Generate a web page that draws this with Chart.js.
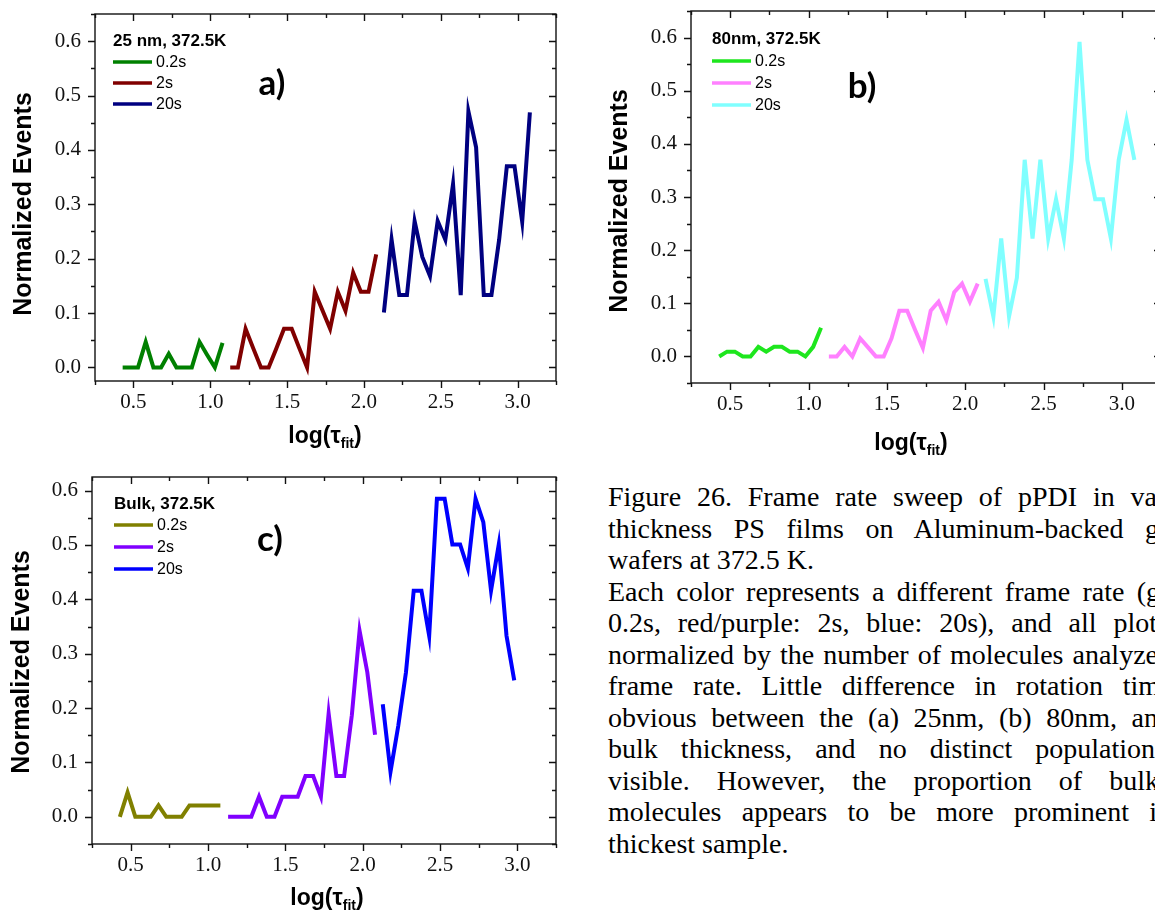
<!DOCTYPE html>
<html>
<head>
<meta charset="utf-8">
<script src="https://cdn.jsdelivr.net/npm/chart.js@4.4.0/dist/chart.umd.min.js"></script>
<style>
  html, body { margin: 0; padding: 0; background: #fff; }
  body { width: 1155px; height: 911px; overflow: hidden; position: relative; }
  canvas { position: absolute; }
  #caption {
    position: absolute; left: 608px; top: 481px; width: 700px;
    font-family: "Liberation Serif", "Times New Roman", serif;
    font-size: 28px; line-height: 31.5px; color: #000;
  }
  #caption div { white-space: nowrap; }
</style>
</head>
<body>
<canvas id="film25" width="580" height="465" style="left:0;top:0"></canvas>
<canvas id="film80" width="590" height="470" style="left:580px;top:0"></canvas>
<canvas id="bulk" width="580" height="446" style="left:0;top:465px"></canvas>
<div id="caption"></div>

<script>
// log(tau_fit) bin centres for each frame rate
var binsFast = [0.43, 0.48, 0.53, 0.58, 0.63, 0.68, 0.73, 0.78, 0.83, 0.88, 0.93, 0.98, 1.03, 1.08];
var binsMid = [1.13, 1.18, 1.23, 1.28, 1.33, 1.38, 1.43, 1.48, 1.53, 1.58, 1.63, 1.68, 1.73, 1.78, 1.83, 1.88, 1.93, 1.98, 2.03, 2.08];
var binsSlow = [2.13, 2.18, 2.23, 2.28, 2.33, 2.38, 2.43, 2.48, 2.53, 2.58, 2.63, 2.68, 2.73, 2.78, 2.83, 2.88, 2.93, 2.98, 3.03, 3.08];

var frameRates = ['0.2s', '2s', '20s'];
var xTicks = [0.5, 1.0, 1.5, 2.0, 2.5, 3.0];
var yTicks = [0.0, 0.1, 0.2, 0.3, 0.4, 0.5, 0.6];

// 25 nm film
var film25Fast = [0, 0, 0, 0.047, 0, 0, 0.025, 0, 0, 0, 0.047, 0.023, 0, 0.045];
var film25Mid = [0, 0, 0.071, 0.035, 0, 0, 0.035, 0.071, 0.071, 0.035, 0, 0.139, 0.105, 0.071, 0.139, 0.104, 0.174, 0.139, 0.139, 0.208];
var film25Slow = [0.101, 0.235, 0.133, 0.133, 0.269, 0.203, 0.168, 0.269, 0.235, 0.337, 0.133, 0.471, 0.405, 0.133, 0.133, 0.235, 0.370, 0.370, 0.268, 0.469];

// 80 nm film
var film80Fast = [0, 0.009, 0.009, 0, 0, 0.018, 0.009, 0.018, 0.018, 0.009, 0.009, 0, 0.018, 0.054];
var film80Mid = [0, 0, 0.018, 0, 0.034, 0.017, 0, 0, 0.034, 0.086, 0.086, 0.050, 0.016, 0.086, 0.103, 0.068, 0.121, 0.137, 0.103, 0.137];
var film80Slow = [0.146, 0.075, 0.222, 0.075, 0.148, 0.370, 0.222, 0.370, 0.222, 0.296, 0.222, 0.370, 0.592, 0.370, 0.296, 0.296, 0.222, 0.370, 0.445, 0.370];

// bulk
var bulkFast = [0, 0.045, 0, 0, 0, 0.021, 0, 0, 0, 0.021, 0.021, 0.021, 0.021, 0.021];
var bulkMid = [0, 0, 0, 0, 0.037, 0, 0, 0.037, 0.037, 0.037, 0.075, 0.075, 0.037, 0.190, 0.075, 0.075, 0.187, 0.342, 0.266, 0.151];
var bulkSlow = [0.207, 0.083, 0.167, 0.266, 0.416, 0.416, 0.333, 0.585, 0.585, 0.501, 0.501, 0.457, 0.585, 0.542, 0.416, 0.501, 0.333, 0.251];

// caption, one entry per printed line: text up to the page edge, the rest, and where the edge text ends
var captionLines = [
  ['Figure 26. Frame rate sweep of pPDI in va', 'rious', 549],
  ['thickness PS films on Aluminum-backed g', 'lass', 551],
  ['wafers at 372.5 K.', '', 0],
  ['Each color represents a different frame rate (g', 'reen:', 552],
  ['0.2s, red/purple: 2s, blue: 20s), and all plot', 's are', 549],
  ['normalized by the number of molecules analyze', 'd at each', 550],
  ['frame rate. Little difference in rotation tim', 'e is', 552],
  ['obvious between the (a) 25nm, (b) 80nm, an', 'd the', 550],
  ['bulk thickness, and no distinct population', 's are', 547],
  ['visible. However, the proportion of bulk', '-like', 551],
  ['molecules appears to be more prominent i', 'n the', 549],
  ['thickest sample.', '', 0]
];

function pairs(xs, ys) {
  return ys.map(function (y, i) { return { x: xs[i], y: y }; });
}

// major ticks plus a minor tick halfway between each pair (and past the ends while in range)
function withMinor(major, min, max) {
  var step = major[1] - major[0];
  var out = [];
  major.forEach(function (v) { out.push({ v: v, major: true }); });
  for (var i = -1; i < major.length; i++) {
    var m = (i < 0 ? major[0] - step : major[i]) + step / 2;
    if (m >= min - 1e-6 && m <= max + 1e-6) out.push({ v: m, major: false });
  }
  return out;
}

var sans = '"Liberation Sans", Arial, sans-serif';

function makePanel(id, p) {
  var canvas = document.getElementById(id);
  var W = canvas.width, H = canvas.height;

  var frame = {
    id: 'frame',
    afterDraw: function (chart) {
      var ctx = chart.ctx, a = chart.chartArea, x = chart.scales.x, y = chart.scales.y;
      ctx.save();
      ctx.strokeStyle = '#111';
      ctx.lineWidth = 1.4;
      ctx.strokeRect(a.left, a.top, a.right - a.left, a.bottom - a.top);
      ctx.beginPath();
      withMinor(xTicks, x.min, x.max).forEach(function (t) {
        var px = Math.round(x.getPixelForValue(t.v)) + 0.5, len = t.major ? 7 : 4;
        ctx.moveTo(px, a.bottom); ctx.lineTo(px, a.bottom + len);
        ctx.moveTo(px, a.top); ctx.lineTo(px, a.top + len);
      });
      withMinor(yTicks, y.min, y.max).forEach(function (t) {
        var py = Math.round(y.getPixelForValue(t.v)) + 0.5, len = t.major ? 7 : 4;
        ctx.moveTo(a.left, py); ctx.lineTo(a.left - len, py);
        ctx.moveTo(a.right, py); ctx.lineTo(a.right - len, py);
      });
      ctx.stroke();

      // legend block
      ctx.fillStyle = '#000';
      ctx.textBaseline = 'middle';
      ctx.textAlign = 'left';
      ctx.font = 'bold 17px ' + sans;
      ctx.fillText(p.name, p.legend.x, p.legend.titleY);
      ctx.font = '16px ' + sans;
      p.colors.forEach(function (c, i) {
        var ry = p.legend.rows[i];
        ctx.strokeStyle = c;
        ctx.lineWidth = 3.5;
        ctx.beginPath();
        ctx.moveTo(p.legend.x, ry); ctx.lineTo(p.legend.x + 39, ry);
        ctx.stroke();
        ctx.fillText(frameRates[i], p.legend.x + 43, ry + 1);
      });

      // panel letter
      ctx.font = 'bold 35px Lato, ' + sans;
      ctx.textAlign = 'center';
      ctx.fillText(p.letter, p.letterPos[0], p.letterPos[1]);

      // axis titles
      ctx.font = 'bold 25px ' + sans;
      ctx.save();
      ctx.translate(p.yTitle[0], p.yTitle[1]);
      ctx.rotate(-Math.PI / 2);
      ctx.fillText('Normalized Events', 0, 0);
      ctx.restore();

      ctx.textBaseline = 'alphabetic';
      ctx.textAlign = 'left';
      var main = 'bold 23px ' + sans, sub = 'bold 14px ' + sans;
      ctx.font = main; var w1 = ctx.measureText('log(\u03c4').width, w3 = ctx.measureText(')').width;
      ctx.font = sub; var w2 = ctx.measureText('fit').width;
      var x0 = p.xTitle[0] - (w1 + w2 + w3) / 2, base = p.xTitle[1];
      ctx.font = main; ctx.fillText('log(\u03c4', x0, base);
      ctx.font = sub; ctx.fillText('fit', x0 + w1, base + 5);
      ctx.font = main; ctx.fillText(')', x0 + w1 + w2, base);
      ctx.restore();
    }
  };

  var tickFont = { family: '"Liberation Serif", "Times New Roman", serif', size: 21 };

  return new Chart(canvas, {
    type: 'line',
    data: {
      datasets: p.series.map(function (s, i) {
        return {
          label: frameRates[i],
          data: pairs(s[0], s[1]),
          borderColor: p.colors[i],
          borderWidth: 4,
          pointRadius: 0,
          tension: 0,
          fill: false
        };
      })
    },
    options: {
      responsive: false,
      animation: false,
      events: [],
      layout: { padding: { left: 0, top: p.area.top, right: W - p.area.right, bottom: 0 } },
      plugins: { legend: { display: false }, tooltip: { enabled: false } },
      scales: {
        x: {
          type: 'linear', min: 0.25, max: 3.25,
          grid: { display: false, drawTicks: false },
          border: { display: false },
          afterBuildTicks: function (s) { s.ticks = xTicks.map(function (v) { return { value: v }; }); },
          afterFit: function (s) { s.height = H - p.area.bottom; s.paddingLeft = 0; s.paddingRight = 0; },
          ticks: { padding: 9, font: tickFont, color: '#111', autoSkip: false, maxRotation: 0,
                   callback: function (v) { return v.toFixed(1); } }
        },
        y: {
          type: 'linear', min: p.yRange[0], max: p.yRange[1],
          grid: { display: false, drawTicks: false },
          border: { display: false },
          afterBuildTicks: function (s) { s.ticks = yTicks.map(function (v) { return { value: v }; }); },
          afterFit: function (s) { s.width = p.area.left; s.paddingTop = 0; s.paddingBottom = 0; },
          ticks: { padding: 14, font: tickFont, color: '#111',
                   callback: function (v) { return v.toFixed(1); } }
        }
      }
    },
    plugins: [frame]
  });
}

makePanel('film25', {
  name: '25 nm, 372.5K',
  colors: ['#008000', '#800000', '#000080'],
  series: [[binsFast, film25Fast], [binsMid, film25Mid], [binsSlow, film25Slow]],
  yRange: [-0.025, 0.65],
  area: { left: 95, top: 14, right: 556, bottom: 381 },
  legend: { x: 113, titleY: 41, rows: [62, 83, 104] },
  letter: 'a)', letterPos: [272, 84],
  yTitle: [24, 204], xTitle: [325, 443]
});

makePanel('film80', {
  name: '80nm, 372.5K',
  colors: ['#1ee61e', '#ff80ff', '#80ffff'],
  series: [[binsFast, film80Fast], [binsMid, film80Mid], [binsSlow, film80Slow]],
  yRange: [-0.05, 0.65],
  area: { left: 111, top: 11, right: 581, bottom: 383 },
  legend: { x: 132, titleY: 39, rows: [61, 83, 105] },
  letter: 'b)', letterPos: [282, 87],
  yTitle: [40, 201], xTitle: [331, 450]
});

makePanel('bulk', {
  name: 'Bulk, 372.5K',
  colors: ['#808000', '#8000ff', '#0000ff'],
  series: [[binsFast, bulkFast], [binsMid, bulkMid], [binsSlow.slice(0, bulkSlow.length), bulkSlow]],
  yRange: [-0.05, 0.625],
  area: { left: 92, top: 12, right: 556, bottom: 379 },
  legend: { x: 114, titleY: 39, rows: [60, 82, 104] },
  letter: 'c)', letterPos: [270, 75],
  yTitle: [22, 197], xTitle: [327, 440]
});

// caption lines, spaced out so the words reach the page edge like justified text
var caption = document.getElementById('caption');
captionLines.forEach(function (l) {
  var row = document.createElement('div');
  var lead = document.createElement('span');
  lead.textContent = l[0];
  row.appendChild(lead);
  row.appendChild(document.createTextNode(l[1]));
  caption.appendChild(row);
  if (l[2] > 0) {
    var gaps = l[0].split(' ').length - 1;
    var w = lead.getBoundingClientRect().width;
    row.style.wordSpacing = ((l[2] - w) / gaps) + 'px';
  }
});
</script>
</body>
</html>
